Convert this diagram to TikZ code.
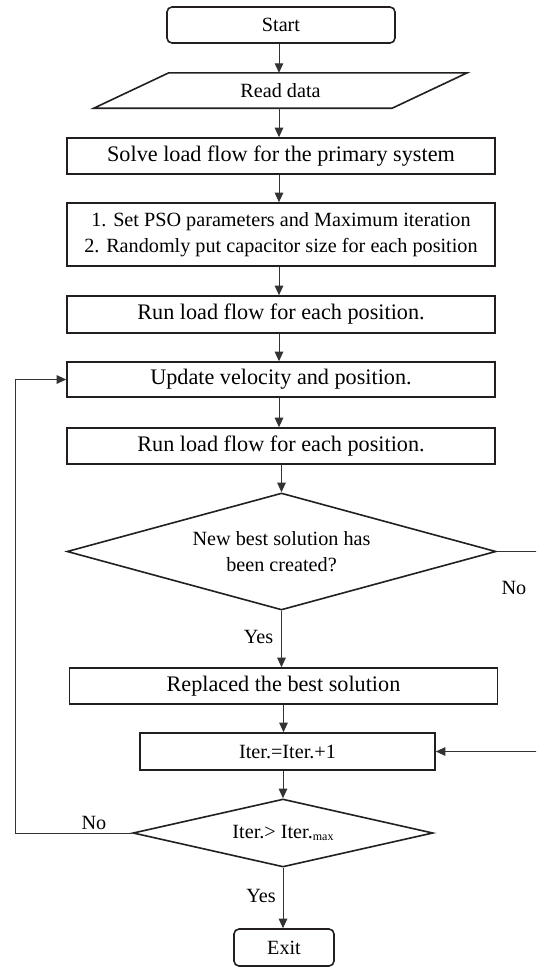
\documentclass[tikz,border=0pt]{standalone}
\usepackage{fontspec}
\setmainfont{Liberation Serif}
\usetikzlibrary{arrows.meta,shapes.geometric,calc}
\definecolor{ink}{HTML}{231F20}
\definecolor{wire}{HTML}{333333}
\begin{document}
\begin{tikzpicture}[x=1pt,y=-1pt,
  big/.style={font=\fontsize{22.2}{26}\selectfont},
  small/.style={font=\fontsize{20.2}{26}\selectfont},
  box/.style={draw=ink,line width=1.6pt,rectangle,inner sep=0pt,align=center},
  rbox/.style={box,rounded corners=5pt},
  dia/.style={draw=ink,line width=1.6pt,diamond,inner sep=0pt,align=center},
  conn/.style={draw=wire,line width=1pt,-{Triangle[length=9.5pt,width=8.5pt]}},
  lbl/.style={small,inner sep=0pt}]
\useasboundingbox (0,0) rectangle (536,969);
\clip (0,0) rectangle (536,969);
\fill[white] (0,0) rectangle (536,969);

\node[rbox,small,minimum width=228pt,minimum height=36pt] (start) at (281,25) {Start};
\node[small,inner sep=0pt,minimum width=373pt,minimum height=35pt] (read) at (280.5,90.5) {Read data};
\draw[ink,line width=1.6pt] ($(read.north west)+(75,0)$) -- (read.north east) -- ($(read.south east)+(-75,0)$) -- (read.south west) -- cycle;
\node[box,big,minimum width=428pt,minimum height=36pt] (solve) at (281,156) {Solve load flow for the primary system};
\node[box,small,minimum width=428pt,minimum height=63pt] (pso) at (281,234.5) {1. Set PSO parameters and Maximum iteration\\2. Randomly put capacitor size for each position};
\node[box,big,minimum width=428pt,minimum height=37pt] (run1) at (281,314.5) {Run load flow for each position.};
\node[box,big,minimum width=428pt,minimum height=35pt] (upd) at (281,379.5) {Update velocity and position.};
\node[box,big,minimum width=428pt,minimum height=36pt] (run2) at (281,446) {Run load flow for each position.};
\node[dia,small,minimum width=429pt,minimum height=117pt,aspect=3.67] (d1) at (281.5,551.5) {New best solution has\\been created?};
\node[box,big,minimum width=428pt,minimum height=36pt] (rep) at (283.5,686) {Replaced the best solution};
\node[box,small,minimum width=295pt,minimum height=37pt] (iter) at (287.5,751.5) {Iter.=Iter.+1};
\node[dia,small,minimum width=300pt,minimum height=68pt,aspect=4.4] (d2) at (283,833) {Iter.> Iter.\raisebox{-1.5pt}{\fontsize{12}{12}\selectfont max}};
\node[rbox,small,minimum width=100pt,minimum height=37pt] (exit) at (284,947.5) {Exit};

\coordinate (rc) at (545,551.5);
\coordinate (lc) at (15.7,833);

\draw[conn] ($(start.south)+(-2,0)$) -- ($(start.south |- read.north)+(-2,0)$);
\draw[conn] ($(read.south)+(-1.5,0)$) -- ($(read.south |- solve.north)+(-1.5,0)$);
\draw[conn] ($(solve.south)+(-2,0)$) -- ($(solve.south |- pso.north)+(-2,0)$);
\draw[conn] ($(pso.south)+(-2,0)$) -- ($(pso.south |- run1.north)+(-2,0)$);
\draw[conn] ($(run1.south)+(-2,0)$) -- ($(run1.south |- upd.north)+(-2,0)$);
\draw[conn] ($(upd.south)+(-2,0)$) -- ($(upd.south |- run2.north)+(-2,0)$);
\draw[conn] (d1.north |- run2.south) -- (d1.north);
\draw[conn] (d1.south) -- (d1.south |- rep.north);
\draw[conn] (rep.south) -- (rep.south |- iter.north);
\draw[conn] (iter.south -| d2.north) -- (d2.north);
\draw[conn] (d2.south) -- (d2.south |- exit.north);

\draw[conn] (d1.east) -- (rc) |- (iter.east);
\draw[conn] (d2.west) -- (lc) |- (upd.west);

\node[lbl] (no1) at (514,588) {No};
\node[lbl] (yes1) at (258.5,637) {Yes};
\node[lbl] (no2) at (94,823) {No};
\node[lbl] (yes2) at (261,896) {Yes};
\end{tikzpicture}
\end{document}
